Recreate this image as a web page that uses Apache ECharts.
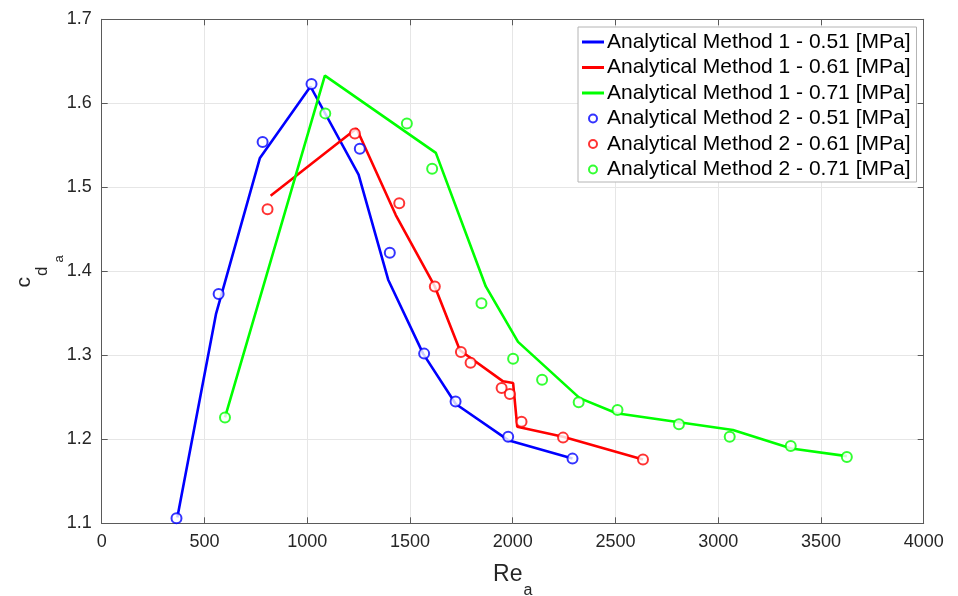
<!DOCTYPE html>
<html>
<head>
<meta charset="utf-8">
<script src="https://cdn.jsdelivr.net/npm/echarts@6/dist/echarts.min.js"></script>
<style>html,body{margin:0;padding:0;background:#fff}#c{width:958px;height:596px}</style>
</head>
<body>
<div id="c"></div>
<script>
// Re_a values / c_da values
const names = [
  'Analytical Method 1 - 0.51 [MPa]',
  'Analytical Method 1 - 0.61 [MPa]',
  'Analytical Method 1 - 0.71 [MPa]',
  'Analytical Method 2 - 0.51 [MPa]',
  'Analytical Method 2 - 0.61 [MPa]',
  'Analytical Method 2 - 0.71 [MPa]'
];
const m1_051 = [[368,1.107],[556,1.349],[770,1.535],[1016,1.620],[1250,1.515],[1394,1.390],[1564,1.302],[1723,1.242],[1978,1.199],[2291,1.177]];
const m1_061 = [[822,1.490],[1240,1.570],[1431,1.467],[1621,1.382],[1743,1.306],[1953,1.269],[2002,1.267],[2022,1.215],[2245,1.203],[2634,1.176]];
const m1_071 = [[600,1.226],[1086,1.633],[1626,1.541],[1869,1.382],[2026,1.316],[2326,1.249],[2505,1.231],[3072,1.211],[3356,1.189],[3626,1.180]];
const m2_051 = [[364,1.106],[569,1.373],[783,1.554],[1021,1.623],[1256,1.546],[1402,1.422],[1569,1.302],[1722,1.245],[1978,1.203],[2291,1.177]];
const m2_061 = [[807,1.474],[1232,1.564],[1448,1.481],[1621,1.382],[1748,1.304],[1795,1.291],[1946,1.261],[1986,1.254],[2043,1.221],[2245,1.202],[2634,1.176]];
const m2_071 = [[600,1.226],[1088,1.588],[1485,1.576],[1608,1.522],[1848,1.362],[2002,1.296],[2143,1.271],[2321,1.244],[2510,1.235],[2809,1.218],[3056,1.203],[3353,1.192],[3626,1.179]];
const xTicks = {min: 0, max: 4000, interval: 500};
const yTicks = {min: 1.1, max: 1.7, interval: 0.1};
const colors = ['#0000ff', '#ff0000', '#00ff00'];

const font = 'Liberation Sans, Arial, Helvetica, sans-serif';
const axisCol = '#5a5a5a';
function baseAxis(extra) {
  return Object.assign({
    type: 'value',
    axisLine: {show: true, onZero: false, lineStyle: {color: axisCol, width: 1}},
    axisTick: {show: true, inside: true, length: 6, lineStyle: {color: axisCol}},
    splitLine: {show: false},
    axisLabel: {show: false}
  }, extra);
}

const chart = echarts.init(document.getElementById('c'), null, {renderer: 'canvas'});
const lineSeries = [m1_051, m1_061, m1_071].map((d, i) => ({
  name: names[i], type: 'line', data: d, symbol: 'none', showSymbol: false,
  lineStyle: {color: colors[i], width: 2.6}, itemStyle: {color: colors[i]},
  xAxisIndex: 0, yAxisIndex: 0, z: 2, animation: false
}));
const scatterSeries = [m2_051, m2_061, m2_071].map((d, i) => ({
  name: names[i + 3], type: 'scatter', data: d, symbol: 'emptyCircle', symbolSize: 10,
  itemStyle: {color: colors[i], borderColor: colors[i], borderWidth: 2.2},
  xAxisIndex: 0, yAxisIndex: 0, z: 3, animation: false
}));

const legendData = names.map((n, i) => i < 3
  ? {name: n, icon: 'path://M0,0H22V3H0Z', itemStyle: {color: colors[i], borderWidth: 0}}
  : {name: n});

chart.setOption({
  animation: false,
  backgroundColor: '#fff',
  grid: {left: 101.7, right: 34.3, top: 19.3, bottom: 72.7, containLabel: false, outerBoundsMode: 'none'},
  legend: {
    orient: 'vertical', left: 578, top: 27,
    data: legendData,
    itemWidth: 22, itemHeight: 8, itemGap: 4.5,
    padding: [4.5, 6, 2, 4],
    backgroundColor: '#fff', borderColor: '#b4b4b4', borderWidth: 1,
    textStyle: {fontFamily: font, fontSize: 21, color: '#000', lineHeight: 21, padding: [0, 0, 0, -2]},
    selectedMode: false
  },
  xAxis: [
    baseAxis({
      position: 'bottom', min: xTicks.min, max: xTicks.max, interval: xTicks.interval,
      splitLine: {show: true, lineStyle: {color: '#e6e6e6', width: 1}},
      axisLabel: {show: true, fontFamily: font, fontSize: 18, color: '#262626', margin: 10,
        formatter: v => String(v)},
      name: '{r|Re}{s|a}', nameLocation: 'middle', nameGap: 40, nameMoveOverlap: false,
      nameTextStyle: {
        rich: {
          r: {fontFamily: font, fontSize: 23, color: '#262626', verticalAlign: 'bottom', padding: [0, 0, 12, 0]},
          s: {fontFamily: font, fontSize: 16, color: '#262626', verticalAlign: 'bottom', padding: [0, 0, 0, 1]}
        }
      }
    }),
    baseAxis({position: 'top', min: xTicks.min, max: xTicks.max, interval: xTicks.interval})
  ],
  yAxis: [
    baseAxis({
      position: 'left', min: yTicks.min, max: yTicks.max, interval: yTicks.interval,
      splitLine: {show: true, lineStyle: {color: '#e6e6e6', width: 1}},
      axisLabel: {show: true, fontFamily: font, fontSize: 18, color: '#262626', margin: 10,
        formatter: v => v.toFixed(1)},
      name: '{c|c}{d|d}{a|a}', nameLocation: 'middle', nameGap: 36, nameRotate: 90, nameMoveOverlap: false,
      nameTextStyle: {
        rich: {
          c: {fontFamily: font, fontSize: 21, color: '#262626', verticalAlign: 'bottom', padding: [0, 0, 31, 0]},
          d: {fontFamily: font, fontSize: 17, color: '#262626', verticalAlign: 'bottom', padding: [0, 0, 15, 1]},
          a: {fontFamily: font, fontSize: 13, color: '#262626', verticalAlign: 'bottom', padding: [0, 0, 0, 4]}
        }
      }
    }),
    baseAxis({position: 'right', min: yTicks.min, max: yTicks.max, interval: yTicks.interval})
  ],
  series: lineSeries.concat(scatterSeries)
});
</script>
</body>
</html>
